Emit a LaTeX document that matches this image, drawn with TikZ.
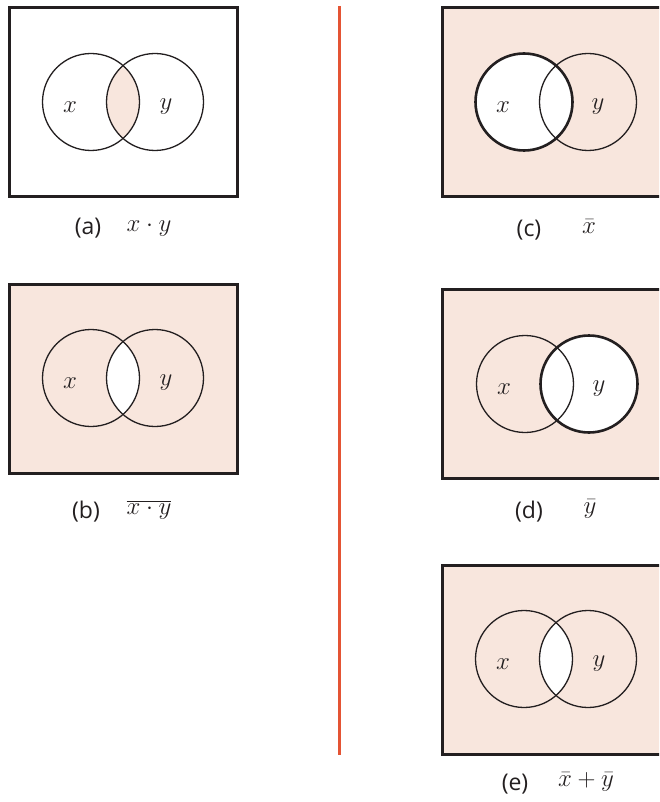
\documentclass[tikz,border=0pt]{standalone}
\usepackage{fontspec}
\setsansfont{Open Sans}
\usepackage{tikz}
\usetikzlibrary{positioning}
\definecolor{peach}{RGB}{248,230,221}
\definecolor{divred}{RGB}{228,84,52}
\definecolor{ink}{RGB}{35,31,32}

\begin{document}
\begin{tikzpicture}[
  x=1pt,y=-1pt,
  frame/.style={draw=ink,line width=3pt},
  shaded/.style={fill=peach},
  ring/.style={circle,draw=ink,line width=1.3pt,minimum size=97pt,inner sep=0pt},
  heavy/.style={line width=2.6pt},
  var/.style={font=\fontsize{24}{26}\selectfont,text=ink},
  tag/.style={font=\sffamily\fontsize{23}{26}\selectfont,text=ink},
  expr/.style={font=\fontsize{24}{26}\selectfont,text=ink}
]
\path[use as bounding box,clip] (0,0) rectangle (659,802);

% (a) x.y
\draw[frame] (9,8) rectangle (237,197);
\begin{scope}
  \clip (91,102) circle (48.5);
  \fill[peach] (155,102) circle (48.5);
\end{scope}
\node[ring] (ax) at (91,102) {};
\node[ring] (ay) at (155,102) {};
\node[var] (axl) at (70,107) {$x$};
\node[var] (ayl) at (166,107) {$y$};
\node[tag] (capa) at (88,228) {(a)};
\node[expr] (expa) at (149,228) {$x\cdot y$};

% (b) complement of x.y
\draw[frame,shaded] (9,284) rectangle (237,473);
\begin{scope}
  \clip (91,378) circle (48.5);
  \fill[white] (155,378) circle (48.5);
\end{scope}
\node[ring] (bx) at (91,378) {};
\node[ring] (by) at (155,378) {};
\node[var] (bxl) at (70,383) {$x$};
\node[var] (byl) at (166,383) {$y$};
\node[tag] (capb) at (86,512) {(b)};
\node[expr] (expb) at (149,510) {$\overline{x\cdot y}$};

% divider
\coordinate (divtop) at (339,6);
\coordinate (divbot) at (339,755);
\draw[divred,line width=3pt] (divtop) -- (divbot);

% (c) x bar
\draw[frame,shaded] (442,8) rectangle (670,197);
\fill[white] (524,102) circle (48.5);
\node[ring] (cy) at (588,102) {};
\node[ring,heavy] (cx) at (524,102) {};
\node[var] (cxl) at (503,107) {$x$};
\node[var] (cyl) at (598,107) {$y$};
\node[tag] (capc) at (529,230) {(c)};
\node[expr] (expc) at (589,227) {$\bar{x}$};

% (d) y bar
\draw[frame,shaded] (442,289) rectangle (670,478);
\fill[white] (589,384) circle (48.5);
\node[ring] (dx) at (525,384) {};
\node[ring,heavy] (dy) at (589,384) {};
\node[var] (dxl) at (504,389) {$x$};
\node[var] (dyl) at (599,389) {$y$};
\node[tag] (capd) at (529,512) {(d)};
\node[expr] (expd) at (590,509) {$\bar{y}$};

% (e) x bar + y bar
\draw[frame,shaded] (442,565) rectangle (670,754);
\begin{scope}
  \clip (524,659) circle (48.5);
  \fill[white] (588,659) circle (48.5);
\end{scope}
\node[ring] (ex) at (524,659) {};
\node[ring] (ey) at (588,659) {};
\node[var] (exl) at (503,664) {$x$};
\node[var] (eyl) at (599,664) {$y$};
\node[tag] (cape) at (515,784) {(e)};
\node[expr] (expe) at (586,782) {$\bar{x}+\bar{y}$};
\end{tikzpicture}
\end{document}
